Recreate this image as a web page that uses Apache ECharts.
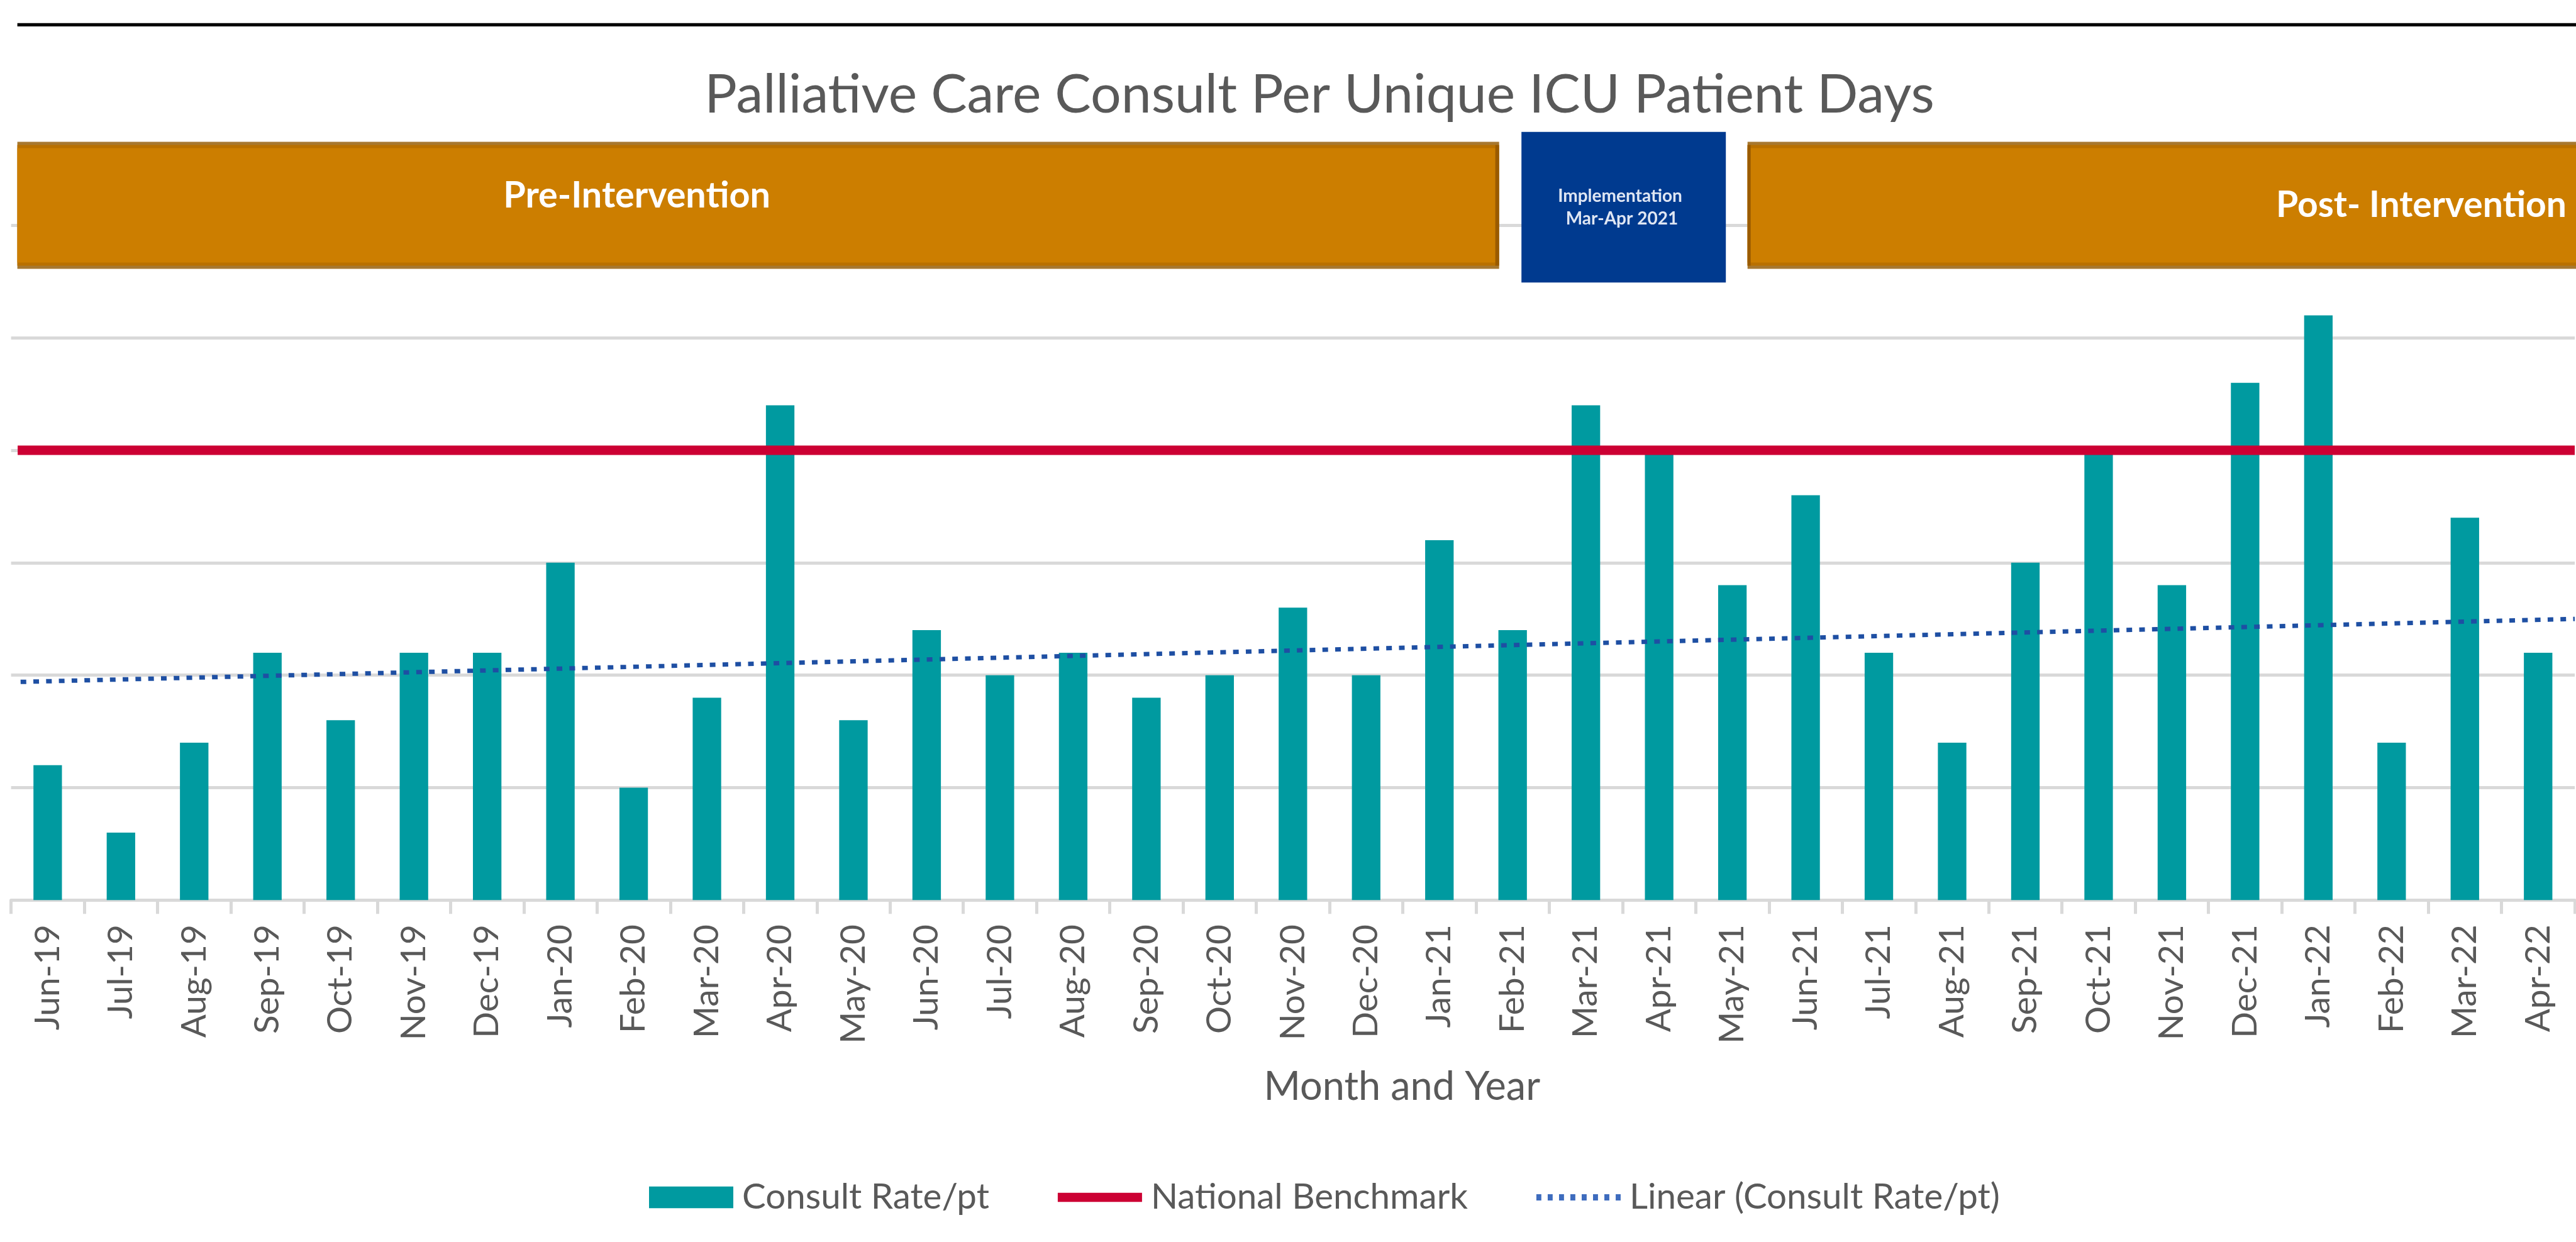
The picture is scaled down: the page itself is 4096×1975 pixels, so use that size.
<!DOCTYPE html>
<html>
<head>
<meta charset="utf-8">
<script src="https://cdn.jsdelivr.net/npm/echarts@6/dist/echarts.min.js"></script>
<style>
html,body{margin:0;padding:0;background:#fff;}
#chart{width:4096px;height:1975px;}
</style>
</head>
<body>
<div id="chart"></div>
<script>
const categories = ['Jun-19','Jul-19','Aug-19','Sep-19','Oct-19','Nov-19','Dec-19','Jan-20','Feb-20','Mar-20','Apr-20','May-20','Jun-20','Jul-20','Aug-20','Sep-20','Oct-20','Nov-20','Dec-20','Jan-21','Feb-21','Mar-21','Apr-21','May-21','Jun-21','Jul-21','Aug-21','Sep-21','Oct-21','Nov-21','Dec-21','Jan-22','Feb-22','Mar-22','Apr-22'];
const consultRate = [1.2,0.6,1.4,2.2,1.6,2.2,2.2,3.0,1.0,1.8,4.4,1.6,2.4,2.0,2.2,1.8,2.0,2.6,2.0,3.2,2.4,4.4,4.0,2.8,3.6,2.2,1.4,3.0,4.0,2.8,4.6,5.2,1.4,3.4,2.2];
// National benchmark (constant) drawn across the plot, positions in category-index units
const benchmarkValue = 4.0;
const benchmarkSpan = [-0.41, 34.5];
// Linear trendline: [category index, value]
const trendStart = [-0.37, 1.94];
const trendEnd = [34.5, 2.50];

const seriesNames = ['Consult Rate/pt', 'National Benchmark', 'Linear (Consult Rate/pt)'];
const titleText = 'Palliative Care Consult Per Unique ICU Patient Days';
const xAxisTitle = 'Month and Year';
const phaseLabels = ['Pre-Intervention', 'Implementation', 'Mar-Apr 2021', 'Post- Intervention'];

const FONT = 'Lato';
const chart = echarts.init(document.getElementById('chart'), null, {renderer: 'canvas'});

// dotted legend icon: 8 short vertical dashes
const dotIcon = 'path://' + [0,1,2,3,4,5,6,7].map(function (i) {
  const x = i * 18.3;
  return 'M' + x + ',0H' + (x + 8) + 'V10H' + x + 'Z';
}).join(' ');

const Z = 100;
const option = {
  backgroundColor: '#ffffff',
  animation: false,
  title: {
    text: titleText,
    left: 2093,
    top: 96,
    textAlign: 'center',
    textStyle: {fontFamily: FONT, fontWeight: 'normal', fontSize: 86, color: '#595959', lineHeight: 100}
  },
  legend: {
    left: 1027,
    top: 1864,
    itemWidth: 134,
    itemHeight: 34.5,
    itemGap: 109,
    textStyle: {fontFamily: FONT, fontSize: 56.5, color: '#595959', lineHeight: 70, padding: [0, 0, 0, 9]},
    data: [
      {name: seriesNames[0], icon: 'rect'},
      {name: seriesNames[1], icon: 'path://M0,0H94V10H0Z'},
      {name: seriesNames[2], icon: dotIcon, itemStyle: {color: '#3E6CBE'}}
    ]
  },
  grid: {left: 17.6, right: 2, top: 358.5, bottom: 543.8, containLabel: false},
  xAxis: [
    {
      type: 'category',
      data: categories,
      boundaryGap: true,
      axisLine: {show: true, lineStyle: {color: '#D9D9D9', width: 5}},
      axisTick: {show: true, length: 22, lineStyle: {color: '#D9D9D9', width: 5}},
      axisLabel: {rotate: 90, margin: 39, fontFamily: FONT, fontSize: 55, color: '#595959'},
      name: xAxisTitle,
      nameLocation: 'middle',
      nameGap: 266,
      nameTextStyle: {fontFamily: FONT, fontSize: 63, color: '#595959', padding: [0, 0, 0, 347]}
    },
    {
      type: 'value',
      min: -0.5,
      max: 34.5,
      show: false
    }
  ],
  yAxis: {
    type: 'value',
    min: 0,
    max: 6,
    interval: 1,
    axisLine: {show: false},
    axisTick: {show: false},
    axisLabel: {show: false},
    splitLine: {show: true, lineStyle: {color: '#D9D9D9', width: 5}}
  },
  series: [
    {
      name: seriesNames[0],
      type: 'bar',
      data: consultRate,
      barWidth: 45.3,
      itemStyle: {color: '#009AA0'},
      z: 2
    },
    {
      name: seriesNames[1],
      type: 'line',
      xAxisIndex: 1,
      data: [[benchmarkSpan[0], benchmarkValue], [benchmarkSpan[1], benchmarkValue]],
      symbol: 'none',
      color: '#CC0033',
      lineStyle: {color: '#CC0033', width: 15},
      z: 3
    },
    {
      name: seriesNames[2],
      type: 'line',
      xAxisIndex: 1,
      data: [trendStart, trendEnd],
      symbol: 'none',
      color: '#2452A4',
      lineStyle: {color: '#1E4FA3', width: 7, type: [9, 11.3]},
      z: 4
    }
  ],
  graphic: [
    // top rule
    {type: 'rect', z: Z, shape: {x: 27.6, y: 36.7, width: 4070, height: 5.3}, style: {fill: '#000000'}},
    // pre-intervention box
    {type: 'rect', z: Z, shape: {x: 27.6, y: 225.6, width: 2356.1, height: 201.9}, style: {fill: '#A77830'}},
    {type: 'rect', z: Z, shape: {x: 27.6, y: 230.6, width: 2351.1, height: 191.9}, style: {fill: '#B97000'}},
    {type: 'rect', z: Z, shape: {x: 27.6, y: 235.6, width: 2350.1, height: 181.9}, style: {fill: '#CC7E00'}},
    {type: 'rect', z: Z, shape: {x: 2377.7, y: 230.6, width: 6, height: 191.9}, style: {fill: '#9A5B00'}},
    // implementation box
    {type: 'rect', z: Z, shape: {x: 2419.2, y: 209.8, width: 325, height: 239.4}, style: {fill: '#003A8F'}},
    // post-intervention box
    {type: 'rect', z: Z, shape: {x: 2778.7, y: 225.6, width: 1320, height: 201.9}, style: {fill: '#A77830'}},
    {type: 'rect', z: Z, shape: {x: 2778.7, y: 230.6, width: 1320, height: 191.9}, style: {fill: '#B97000'}},
    {type: 'rect', z: Z, shape: {x: 2778.7, y: 235.6, width: 1320, height: 181.9}, style: {fill: '#CC7E00'}},
    {type: 'rect', z: Z, shape: {x: 2778.7, y: 230.6, width: 5, height: 191.9}, style: {fill: '#9A5B00'}},
    // phase labels
    {type: 'text', z: Z + 1, x: 1012.6, y: 311, style: {text: phaseLabels[0], fill: '#ffffff', font: 'bold 57.5px Lato', align: 'center', verticalAlign: 'middle'}},
    {type: 'text', z: Z + 1, x: 2576, y: 312, style: {text: phaseLabels[1], fill: '#dfe6f3', font: 'bold 28px Lato', align: 'center', verticalAlign: 'middle'}},
    {type: 'text', z: Z + 1, x: 2579, y: 348, style: {text: phaseLabels[2], fill: '#dfe6f3', font: 'bold 28px Lato', align: 'center', verticalAlign: 'middle'}},
    {type: 'text', z: Z + 1, x: 3850, y: 327, style: {text: phaseLabels[3], fill: '#ffffff', font: 'bold 57px Lato', align: 'center', verticalAlign: 'middle'}}
  ]
};
chart.setOption(option);
</script>
</body>
</html>
